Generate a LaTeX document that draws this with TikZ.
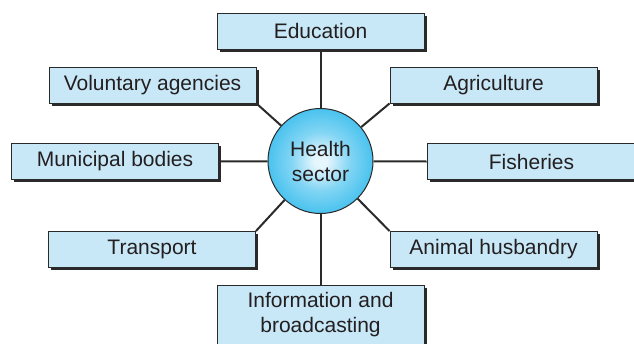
\documentclass[tikz,border=0pt]{standalone}
\usepackage{fontspec}
\setmainfont{Liberation Sans}
\usetikzlibrary{shadows}
\definecolor{boxfill}{HTML}{C8E8F8}
\definecolor{hcin}{HTML}{E6F6FD}
\definecolor{hcout}{HTML}{30BAEC}
\definecolor{txt}{HTML}{231F20}
\definecolor{edge}{HTML}{2A2A2A}
\pgfdeclareradialshading{hshade}{\pgfpoint{0bp}{0bp}}{color(0bp)=(hcin); color(3bp)=(hcin); color(14bp)=(hcout!55!hcin); color(30bp)=(hcout); color(50bp)=(hcout)}
\tikzset{
  sector/.style={draw=edge, line width=0.9pt, fill=boxfill, text=txt,
    minimum width=207pt, minimum height=36pt, inner sep=0pt, align=center,
    font=\fontsize{21}{25}\selectfont,
    drop shadow={shadow xshift=2.5pt, shadow yshift=-2.5pt, fill=edge, opacity=1}},
  hub/.style={circle, draw=edge, line width=1pt, shading=hshade, text=txt,
    minimum size=105pt, inner sep=0pt, align=center,
    font=\fontsize{21}{25}\selectfont},
  conn/.style={draw=edge, line width=2pt}
}
\begin{document}
\begin{tikzpicture}[x=1pt,y=-1pt]
\useasboundingbox (0,0) rectangle (634,343);
\node[hub] (hc) at (320.5,161) {Health\\sector};
\node[sector] (edu) at (320.5,31) {Education};
\node[sector] (vol) at (152.5,85) {Voluntary agencies};
\node[sector] (agr) at (493.5,85) {Agriculture};
\node[sector] (mun) at (115,161.5) {Municipal bodies};
\node[sector, minimum width=209pt] (fis) at (531.5,161.5) {Fisheries};
\node[sector] (tra) at (152,249.5) {Transport};
\node[sector] (ani) at (493.5,249.5) {Animal husbandry};
\node[sector, minimum height=60pt] (inf) at (320.5,315) {Information and\\broadcasting};
\draw[conn] (edu.south) -- (hc);
\draw[conn] (vol.south east) -- (hc);
\draw[conn] (agr.south west) -- (hc);
\draw[conn] (mun.east) -- (hc);
\draw[conn] (fis.west) -- (hc);
\draw[conn] (tra.north east) -- (hc);
\draw[conn] (ani.north west) -- (hc);
\draw[conn] (inf.north) -- (hc);
\end{tikzpicture}
\end{document}
